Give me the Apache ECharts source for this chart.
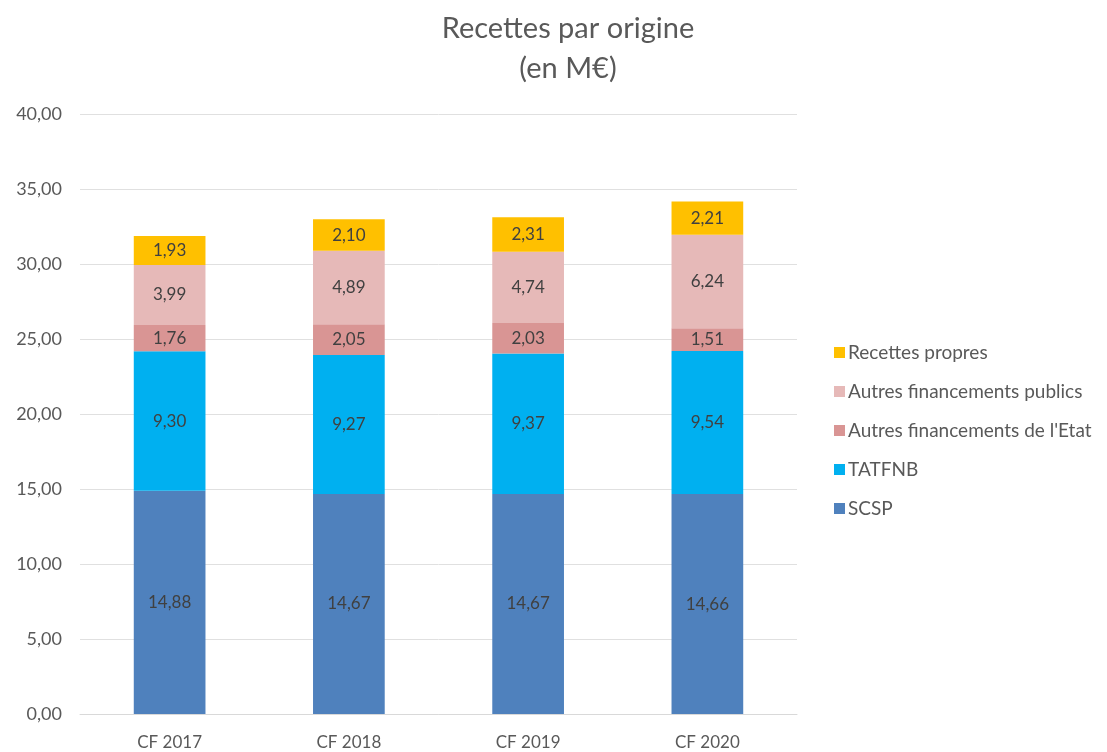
<!DOCTYPE html>
<html><head><meta charset="utf-8">
<script src="https://cdn.jsdelivr.net/npm/echarts@6/dist/echarts.min.js"></script>
<style>html,body{margin:0;padding:0;background:#fff}#c{width:1107px;height:752px}</style>
</head><body><div id="c"></div>
<script>
const categories = ["CF 2017", "CF 2018", "CF 2019", "CF 2020"];
const scsp = [14.88, 14.67, 14.67, 14.66];
const tatfnb = [9.30, 9.27, 9.37, 9.54];
const autresEtat = [1.76, 2.05, 2.03, 1.51];
const autresPublics = [3.99, 4.89, 4.74, 6.24];
const recettesPropres = [1.93, 2.10, 2.31, 2.21];
const seriesNames = ["SCSP", "TATFNB", "Autres financements de l'Etat", "Autres financements publics", "Recettes propres"];
const seriesColors = ["#4F81BD", "#00B0F0", "#D99594", "#E6B9B8", "#FFC000"];
const seriesData = [scsp, tatfnb, autresEtat, autresPublics, recettesPropres];

const FONT = "Lato, 'Open Sans', sans-serif";
const fmt = v => v.toFixed(2).replace('.', ',');

const chart = echarts.init(document.getElementById('c'), null, {renderer: 'canvas'});
chart.setOption({
  animation: false,
  textStyle: {fontFamily: FONT},
  title: {
    text: 'Recettes par origine\n(en M€)',
    left: 563, top: 4, textAlign: 'center',
    textStyle: {fontFamily: FONT, fontSize: 29, fontWeight: 'normal', color: '#595959', lineHeight: 40}
  },
  legend: {
    orient: 'vertical', left: 829, top: 338, itemGap: 20,
    itemWidth: 11, itemHeight: 11, icon: 'rect',
    data: seriesNames.slice().reverse(),
    textStyle: {fontFamily: FONT, fontSize: 19, color: '#595959', padding: [0, 0, 0, -2]}
  },
  grid: {left: 80, right: 310, top: 114, bottom: 38, containLabel: false},
  xAxis: {
    type: 'category', data: categories,
    axisLine: {lineStyle: {color: '#D9D9D9'}},
    axisTick: {show: false},
    axisLabel: {fontFamily: FONT, fontSize: 17, color: '#595959', margin: 20}
  },
  yAxis: {
    type: 'value', min: 0, max: 40, interval: 5,
    axisLabel: {formatter: v => fmt(v), fontFamily: FONT, fontSize: 18, color: '#595959', margin: 18},
    splitLine: {lineStyle: {color: '#E0E0E0'}},
    axisLine: {show: false}, axisTick: {show: false}
  },
  series: seriesNames.map((n, i) => ({
    name: n, type: 'bar', stack: 'total', barWidth: '40%',
    data: seriesData[i],
    itemStyle: {color: seriesColors[i]},
    label: {show: true, position: 'inside', formatter: p => fmt(p.value),
      fontFamily: FONT, fontSize: 17, color: '#404040'}
  }))
});
</script></body></html>
